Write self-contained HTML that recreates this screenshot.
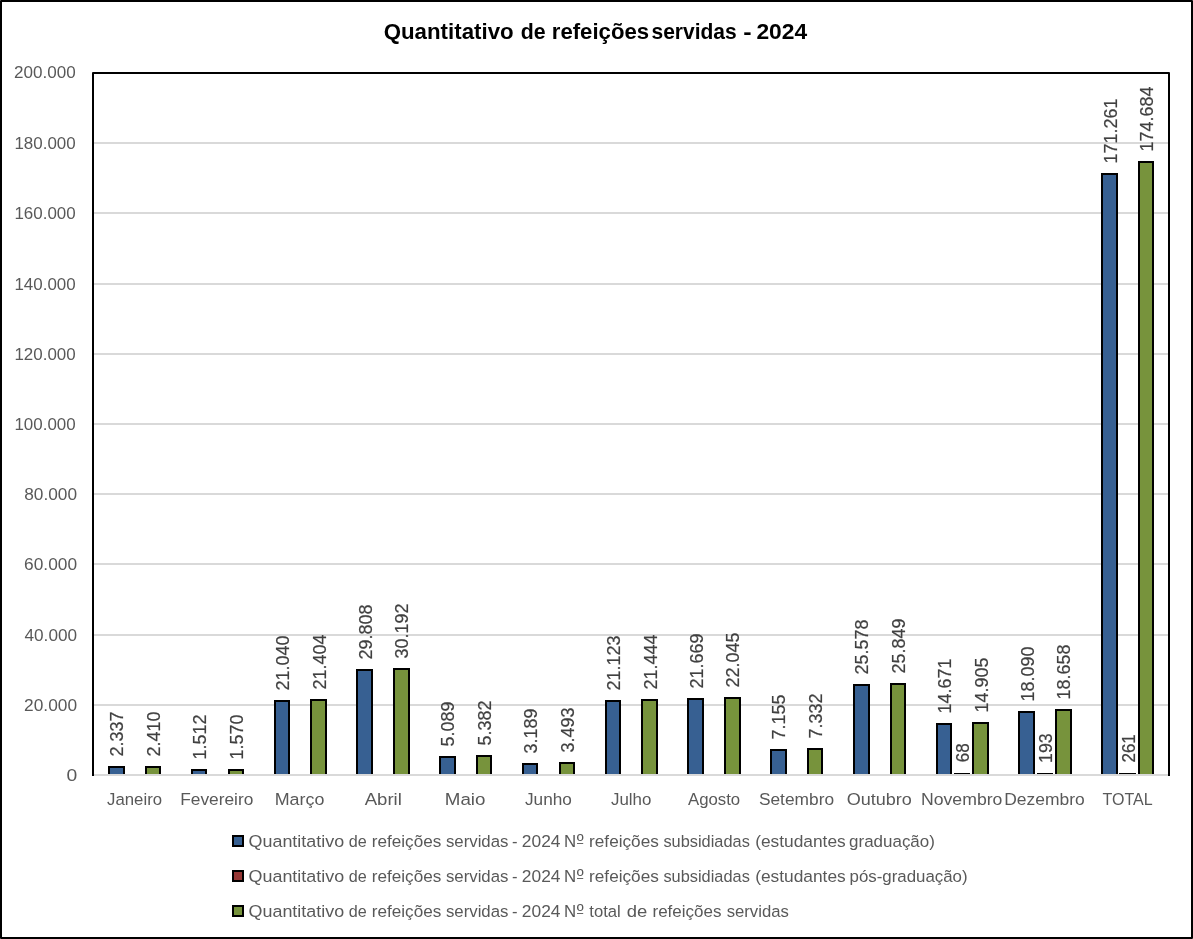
<!DOCTYPE html>
<html lang="pt-BR"><head><meta charset="utf-8"><title>Quantitativo de refeições servidas - 2024</title>
<style>html,body{margin:0;padding:0;background:#fff}svg{display:block}</style></head>
<body>
<svg width="1193" height="939" viewBox="0 0 1193 939" font-family="&quot;Liberation Sans&quot;, Arial, sans-serif">
<rect x="0" y="0" width="1193" height="939" fill="#fff"/>
<g fill="#d9d9d9"><rect x="94" y="704" width="1074" height="2"/><rect x="94" y="634" width="1074" height="2"/><rect x="94" y="563" width="1074" height="2"/><rect x="94" y="493" width="1074" height="2"/><rect x="94" y="423" width="1074" height="2"/><rect x="94" y="353" width="1074" height="2"/><rect x="94" y="283" width="1074" height="2"/><rect x="94" y="212" width="1074" height="2"/><rect x="94" y="142" width="1074" height="2"/></g>
<g fill="#000"><rect x="108" y="766" width="17" height="8"/><rect x="145" y="766" width="16" height="8"/><rect x="191" y="769" width="16" height="5"/><rect x="228" y="769" width="16" height="5"/><rect x="274" y="700" width="16" height="74"/><rect x="310" y="699" width="17" height="75"/><rect x="356" y="669" width="17" height="105"/><rect x="393" y="668" width="17" height="106"/><rect x="439" y="756" width="17" height="18"/><rect x="476" y="755" width="16" height="19"/><rect x="522" y="763" width="16" height="11"/><rect x="559" y="762" width="16" height="12"/><rect x="605" y="700" width="16" height="74"/><rect x="641" y="699" width="17" height="75"/><rect x="687" y="698" width="17" height="76"/><rect x="724" y="697" width="17" height="77"/><rect x="770" y="749" width="17" height="25"/><rect x="807" y="748" width="16" height="26"/><rect x="853" y="684" width="17" height="90"/><rect x="890" y="683" width="16" height="91"/><rect x="936" y="723" width="16" height="51"/><rect x="972" y="722" width="17" height="52"/><rect x="1018" y="711" width="17" height="63"/><rect x="1055" y="709" width="17" height="65"/><rect x="1101" y="173" width="17" height="601"/><rect x="1138" y="161" width="16" height="613"/><rect x="954" y="773" width="16" height="1"/><rect x="1037" y="773" width="16" height="1"/><rect x="1119" y="773" width="17" height="1"/></g>
<g><rect x="110" y="768" width="13" height="6" fill="#376092"/><rect x="147" y="768" width="12" height="6" fill="#77933c"/><rect x="193" y="771" width="12" height="3" fill="#376092"/><rect x="230" y="771" width="12" height="3" fill="#77933c"/><rect x="276" y="702" width="12" height="72" fill="#376092"/><rect x="312" y="701" width="13" height="73" fill="#77933c"/><rect x="358" y="671" width="13" height="103" fill="#376092"/><rect x="395" y="670" width="13" height="104" fill="#77933c"/><rect x="441" y="758" width="13" height="16" fill="#376092"/><rect x="478" y="757" width="12" height="17" fill="#77933c"/><rect x="524" y="765" width="12" height="9" fill="#376092"/><rect x="561" y="764" width="12" height="10" fill="#77933c"/><rect x="607" y="702" width="12" height="72" fill="#376092"/><rect x="643" y="701" width="13" height="73" fill="#77933c"/><rect x="689" y="700" width="13" height="74" fill="#376092"/><rect x="726" y="699" width="13" height="75" fill="#77933c"/><rect x="772" y="751" width="13" height="23" fill="#376092"/><rect x="809" y="750" width="12" height="24" fill="#77933c"/><rect x="855" y="686" width="13" height="88" fill="#376092"/><rect x="892" y="685" width="12" height="89" fill="#77933c"/><rect x="938" y="725" width="12" height="49" fill="#376092"/><rect x="974" y="724" width="13" height="50" fill="#77933c"/><rect x="1020" y="713" width="13" height="61" fill="#376092"/><rect x="1057" y="711" width="13" height="63" fill="#77933c"/><rect x="1103" y="175" width="13" height="599" fill="#376092"/><rect x="1140" y="163" width="12" height="611" fill="#77933c"/></g>
<rect x="94" y="774" width="1074" height="2" fill="#d9d9d9"/>
<path d="M93.0 776.0 V73.0 H1169.0 V776.0" fill="none" stroke="#000" stroke-width="2" stroke-linejoin="round"/>
<g font-size="17.6" fill="#404040" stroke="#404040" stroke-width="0.2"><text transform="translate(123.33 756.50) rotate(-90)" textLength="44.91" lengthAdjust="spacingAndGlyphs">2.337</text><text transform="translate(159.99 756.50) rotate(-90)" textLength="44.91" lengthAdjust="spacingAndGlyphs">2.410</text><text transform="translate(206.09 759.50) rotate(-90)" textLength="44.91" lengthAdjust="spacingAndGlyphs">1.512</text><text transform="translate(242.75 759.50) rotate(-90)" textLength="44.91" lengthAdjust="spacingAndGlyphs">1.570</text><text transform="translate(288.86 690.50) rotate(-90)" textLength="54.89" lengthAdjust="spacingAndGlyphs">21.040</text><text transform="translate(325.52 689.50) rotate(-90)" textLength="54.89" lengthAdjust="spacingAndGlyphs">21.404</text><text transform="translate(371.63 659.50) rotate(-90)" textLength="54.89" lengthAdjust="spacingAndGlyphs">29.808</text><text transform="translate(408.29 658.50) rotate(-90)" textLength="54.89" lengthAdjust="spacingAndGlyphs">30.192</text><text transform="translate(454.40 746.50) rotate(-90)" textLength="44.91" lengthAdjust="spacingAndGlyphs">5.089</text><text transform="translate(491.06 745.50) rotate(-90)" textLength="44.91" lengthAdjust="spacingAndGlyphs">5.382</text><text transform="translate(537.17 753.50) rotate(-90)" textLength="44.91" lengthAdjust="spacingAndGlyphs">3.189</text><text transform="translate(573.83 752.50) rotate(-90)" textLength="44.91" lengthAdjust="spacingAndGlyphs">3.493</text><text transform="translate(619.94 690.50) rotate(-90)" textLength="54.89" lengthAdjust="spacingAndGlyphs">21.123</text><text transform="translate(656.60 689.50) rotate(-90)" textLength="54.89" lengthAdjust="spacingAndGlyphs">21.444</text><text transform="translate(702.71 688.50) rotate(-90)" textLength="54.89" lengthAdjust="spacingAndGlyphs">21.669</text><text transform="translate(739.37 687.50) rotate(-90)" textLength="54.89" lengthAdjust="spacingAndGlyphs">22.045</text><text transform="translate(785.48 739.50) rotate(-90)" textLength="44.91" lengthAdjust="spacingAndGlyphs">7.155</text><text transform="translate(822.14 738.50) rotate(-90)" textLength="44.91" lengthAdjust="spacingAndGlyphs">7.332</text><text transform="translate(868.25 674.50) rotate(-90)" textLength="54.89" lengthAdjust="spacingAndGlyphs">25.578</text><text transform="translate(904.91 673.50) rotate(-90)" textLength="54.89" lengthAdjust="spacingAndGlyphs">25.849</text><text transform="translate(951.02 713.50) rotate(-90)" textLength="54.89" lengthAdjust="spacingAndGlyphs">14.671</text><text transform="translate(969.09 762.15) rotate(-90)" textLength="18.92" lengthAdjust="spacingAndGlyphs">68</text><text transform="translate(987.68 712.50) rotate(-90)" textLength="54.89" lengthAdjust="spacingAndGlyphs">14.905</text><text transform="translate(1033.79 701.50) rotate(-90)" textLength="54.89" lengthAdjust="spacingAndGlyphs">18.090</text><text transform="translate(1051.86 762.96) rotate(-90)" textLength="29.68" lengthAdjust="spacingAndGlyphs">193</text><text transform="translate(1070.45 699.50) rotate(-90)" textLength="54.89" lengthAdjust="spacingAndGlyphs">18.658</text><text transform="translate(1116.56 163.50) rotate(-90)" textLength="64.88" lengthAdjust="spacingAndGlyphs">171.261</text><text transform="translate(1134.63 762.55) rotate(-90)" textLength="28.36" lengthAdjust="spacingAndGlyphs">261</text><text transform="translate(1153.22 151.50) rotate(-90)" textLength="64.88" lengthAdjust="spacingAndGlyphs">174.684</text></g>
<text x="107.13" y="804.6" font-size="16.7" fill="#595959" textLength="54.90" lengthAdjust="spacingAndGlyphs">Janeiro</text>
<text x="180.23" y="804.6" font-size="16.7" fill="#595959" textLength="73.11" lengthAdjust="spacingAndGlyphs">Fevereiro</text>
<text x="274.70" y="804.6" font-size="16.7" fill="#595959" textLength="49.66" lengthAdjust="spacingAndGlyphs">Março</text>
<text x="364.69" y="804.6" font-size="16.7" fill="#595959" textLength="37.15" lengthAdjust="spacingAndGlyphs">Abril</text>
<text x="444.77" y="804.6" font-size="16.7" fill="#595959" textLength="40.62" lengthAdjust="spacingAndGlyphs">Maio</text>
<text x="524.97" y="804.6" font-size="16.7" fill="#595959" textLength="46.90" lengthAdjust="spacingAndGlyphs">Junho</text>
<text x="611.00" y="804.6" font-size="16.7" fill="#595959" textLength="40.43" lengthAdjust="spacingAndGlyphs">Julho</text>
<text x="687.97" y="804.6" font-size="16.7" fill="#595959" textLength="52.22" lengthAdjust="spacingAndGlyphs">Agosto</text>
<text x="758.91" y="804.6" font-size="16.7" fill="#595959" textLength="75.15" lengthAdjust="spacingAndGlyphs">Setembro</text>
<text x="846.70" y="804.6" font-size="16.7" fill="#595959" textLength="65.18" lengthAdjust="spacingAndGlyphs">Outubro</text>
<text x="920.97" y="804.6" font-size="16.7" fill="#595959" textLength="81.45" lengthAdjust="spacingAndGlyphs">Novembro</text>
<text x="1004.21" y="804.6" font-size="16.7" fill="#595959" textLength="80.52" lengthAdjust="spacingAndGlyphs">Dezembro</text>
<text x="1102.56" y="804.6" font-size="16.7" fill="#595959" textLength="50.14" lengthAdjust="spacingAndGlyphs">TOTAL</text>
<text x="66.58" y="780.90" font-size="16.7" fill="#595959" textLength="10.74" lengthAdjust="spacingAndGlyphs">0</text>
<text x="24.12" y="710.70" font-size="16.7" fill="#595959" textLength="52.97" lengthAdjust="spacingAndGlyphs">20.000</text>
<text x="24.51" y="640.50" font-size="16.7" fill="#595959" textLength="52.58" lengthAdjust="spacingAndGlyphs">40.000</text>
<text x="24.12" y="570.30" font-size="16.7" fill="#595959" textLength="52.97" lengthAdjust="spacingAndGlyphs">60.000</text>
<text x="24.25" y="500.10" font-size="16.7" fill="#595959" textLength="52.84" lengthAdjust="spacingAndGlyphs">80.000</text>
<text x="14.43" y="429.90" font-size="16.7" fill="#595959" textLength="61.26" lengthAdjust="spacingAndGlyphs">100.000</text>
<text x="14.43" y="359.70" font-size="16.7" fill="#595959" textLength="61.26" lengthAdjust="spacingAndGlyphs">120.000</text>
<text x="14.43" y="289.50" font-size="16.7" fill="#595959" textLength="61.26" lengthAdjust="spacingAndGlyphs">140.000</text>
<text x="14.43" y="219.30" font-size="16.7" fill="#595959" textLength="61.26" lengthAdjust="spacingAndGlyphs">160.000</text>
<text x="14.43" y="149.10" font-size="16.7" fill="#595959" textLength="61.26" lengthAdjust="spacingAndGlyphs">180.000</text>
<text x="14.03" y="78.40" font-size="16.7" fill="#595959" textLength="61.66" lengthAdjust="spacingAndGlyphs">200.000</text>
<text y="39.1" font-size="21.4" font-weight="bold" fill="#000"><tspan x="383.69" textLength="129.97" lengthAdjust="spacingAndGlyphs">Quantitativo</tspan> <tspan x="520.73" textLength="24.86" lengthAdjust="spacingAndGlyphs">de</tspan> <tspan x="551.78" textLength="97.37" lengthAdjust="spacingAndGlyphs">refeições</tspan> <tspan x="651.46" textLength="85.24" lengthAdjust="spacingAndGlyphs">servidas</tspan> <tspan x="743.32" textLength="8.36" lengthAdjust="spacingAndGlyphs">-</tspan> <tspan x="756.43" textLength="50.74" lengthAdjust="spacingAndGlyphs">2024</tspan></text>
<rect x="232" y="835" width="12" height="12" fill="#000"/><rect x="234" y="837" width="8" height="8" fill="#376092"/>
<text y="846.7" font-size="16.8" fill="#595959"><tspan x="248.55" textLength="95.62" lengthAdjust="spacingAndGlyphs">Quantitativo</tspan> <tspan x="348.80" textLength="17.96" lengthAdjust="spacingAndGlyphs">de</tspan> <tspan x="371.78" textLength="69.47" lengthAdjust="spacingAndGlyphs">refeições</tspan> <tspan x="445.93" textLength="62.53" lengthAdjust="spacingAndGlyphs">servidas</tspan> <tspan x="512.08" textLength="5.53" lengthAdjust="spacingAndGlyphs">-</tspan> <tspan x="521.82" textLength="38.69" lengthAdjust="spacingAndGlyphs">2024</tspan> <tspan x="564.02" textLength="12.16" lengthAdjust="spacingAndGlyphs">N</tspan><tspan x="576.66" textLength="6.89" lengthAdjust="spacingAndGlyphs">º</tspan> <tspan x="589.08" textLength="69.77" lengthAdjust="spacingAndGlyphs">refeições</tspan> <tspan x="663.43" textLength="86.42" lengthAdjust="spacingAndGlyphs">subsidiadas</tspan> <tspan x="755.17" textLength="90.58" lengthAdjust="spacingAndGlyphs">(estudantes</tspan> <tspan x="849.07" textLength="85.82" lengthAdjust="spacingAndGlyphs">graduação)</tspan></text>
<rect x="577" y="843.10" width="6.2" height="0.9" fill="#595959"/>
<rect x="232" y="870" width="12" height="12" fill="#000"/><rect x="234" y="872" width="8" height="8" fill="#953735"/>
<text y="881.6" font-size="16.8" fill="#595959"><tspan x="248.55" textLength="95.62" lengthAdjust="spacingAndGlyphs">Quantitativo</tspan> <tspan x="348.80" textLength="17.96" lengthAdjust="spacingAndGlyphs">de</tspan> <tspan x="371.78" textLength="69.47" lengthAdjust="spacingAndGlyphs">refeições</tspan> <tspan x="445.93" textLength="62.53" lengthAdjust="spacingAndGlyphs">servidas</tspan> <tspan x="512.08" textLength="5.53" lengthAdjust="spacingAndGlyphs">-</tspan> <tspan x="521.82" textLength="38.69" lengthAdjust="spacingAndGlyphs">2024</tspan> <tspan x="564.02" textLength="12.16" lengthAdjust="spacingAndGlyphs">N</tspan><tspan x="576.66" textLength="6.89" lengthAdjust="spacingAndGlyphs">º</tspan> <tspan x="589.08" textLength="69.77" lengthAdjust="spacingAndGlyphs">refeições</tspan> <tspan x="663.43" textLength="86.42" lengthAdjust="spacingAndGlyphs">subsidiadas</tspan> <tspan x="755.17" textLength="90.58" lengthAdjust="spacingAndGlyphs">(estudantes</tspan> <tspan x="849.50" textLength="118.12" lengthAdjust="spacingAndGlyphs">pós-graduação)</tspan></text>
<rect x="577" y="878.00" width="6.2" height="0.9" fill="#595959"/>
<rect x="232" y="905" width="12" height="12" fill="#000"/><rect x="234" y="907" width="8" height="8" fill="#77933c"/>
<text y="916.7" font-size="16.8" fill="#595959"><tspan x="248.55" textLength="95.62" lengthAdjust="spacingAndGlyphs">Quantitativo</tspan> <tspan x="348.80" textLength="17.96" lengthAdjust="spacingAndGlyphs">de</tspan> <tspan x="371.78" textLength="69.47" lengthAdjust="spacingAndGlyphs">refeições</tspan> <tspan x="445.93" textLength="62.53" lengthAdjust="spacingAndGlyphs">servidas</tspan> <tspan x="512.08" textLength="5.53" lengthAdjust="spacingAndGlyphs">-</tspan> <tspan x="521.82" textLength="38.69" lengthAdjust="spacingAndGlyphs">2024</tspan> <tspan x="564.02" textLength="12.16" lengthAdjust="spacingAndGlyphs">N</tspan><tspan x="576.66" textLength="6.89" lengthAdjust="spacingAndGlyphs">º</tspan> <tspan x="589.35" textLength="31.46" lengthAdjust="spacingAndGlyphs">total</tspan> <tspan x="626.71" textLength="20.54" lengthAdjust="spacingAndGlyphs">de</tspan> <tspan x="652.49" textLength="68.95" lengthAdjust="spacingAndGlyphs">refeições</tspan> <tspan x="726.63" textLength="62.22" lengthAdjust="spacingAndGlyphs">servidas</tspan></text>
<rect x="577" y="913.10" width="6.2" height="0.9" fill="#595959"/>
<path d="M1 1 H1192 V938 H1 Z" fill="none" stroke="#000" stroke-width="2" stroke-linejoin="round"/>
</svg>
</body></html>
